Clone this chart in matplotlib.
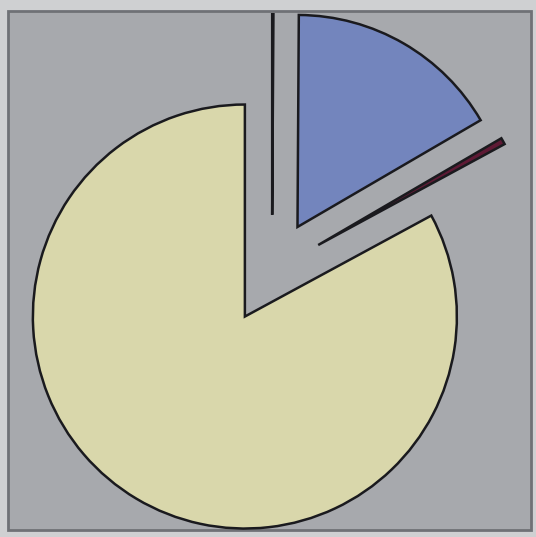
import matplotlib
matplotlib.use("Agg")
import matplotlib.pyplot as plt
from matplotlib.patches import Rectangle
from matplotlib.transforms import Bbox, TransformedBbox

# Slice values (percent), clockwise from 12 o'clock
labels = ["Thin", "Blue", "Red", "Yellow"]
values = [0.1, 16.5, 0.5, 82.9]
colors = ["#9aa0a8", "#7385bd", "#5e1a35", "#d9d7ab"]
explode = [0.265, 0.24, 0.25, 0.25]

W, H = 536, 537
fig = plt.figure(figsize=(W / 100, H / 100), dpi=100)
fig.patch.set_facecolor("#cfd0d2")

ax = fig.add_axes([0, 0, 1, 1])
ax.set_facecolor("none")

# plot-area background with dark frame (behind the pie)
x0, y0 = 8 / W, 1 - 530 / H
fw, fh = (531 - 8) / W, (530 - 11) / H
frame = Rectangle((x0, y0), fw, fh, transform=ax.transAxes, facecolor="#a7a9ad",
                  edgecolor="#6f7176", linewidth=2.0, zorder=-10)
ax.add_patch(frame)

wedges, _ = ax.pie(values, colors=colors, explode=explode, startangle=90,
                   counterclock=False, radius=1.0,
                   wedgeprops=dict(edgecolor="#1a1a1e", linewidth=1.8))
clip = TransformedBbox(Bbox.from_bounds(x0, y0, fw, fh - 2 / H), ax.transAxes)
for w in wedges:
    w.set_clip_on(True)
    w.set_clip_path(None)
    w.set_clip_box(clip)

R = 212.0
cx, cy = 272.0, 271.0
ax.set_xlim(-cx / R, (W - cx) / R)
ax.set_ylim(-(H - cy) / R, cy / R)
ax.set_aspect("auto")
ax.axis("off")

fig.savefig("out.png", dpi=100, facecolor=fig.get_facecolor())
